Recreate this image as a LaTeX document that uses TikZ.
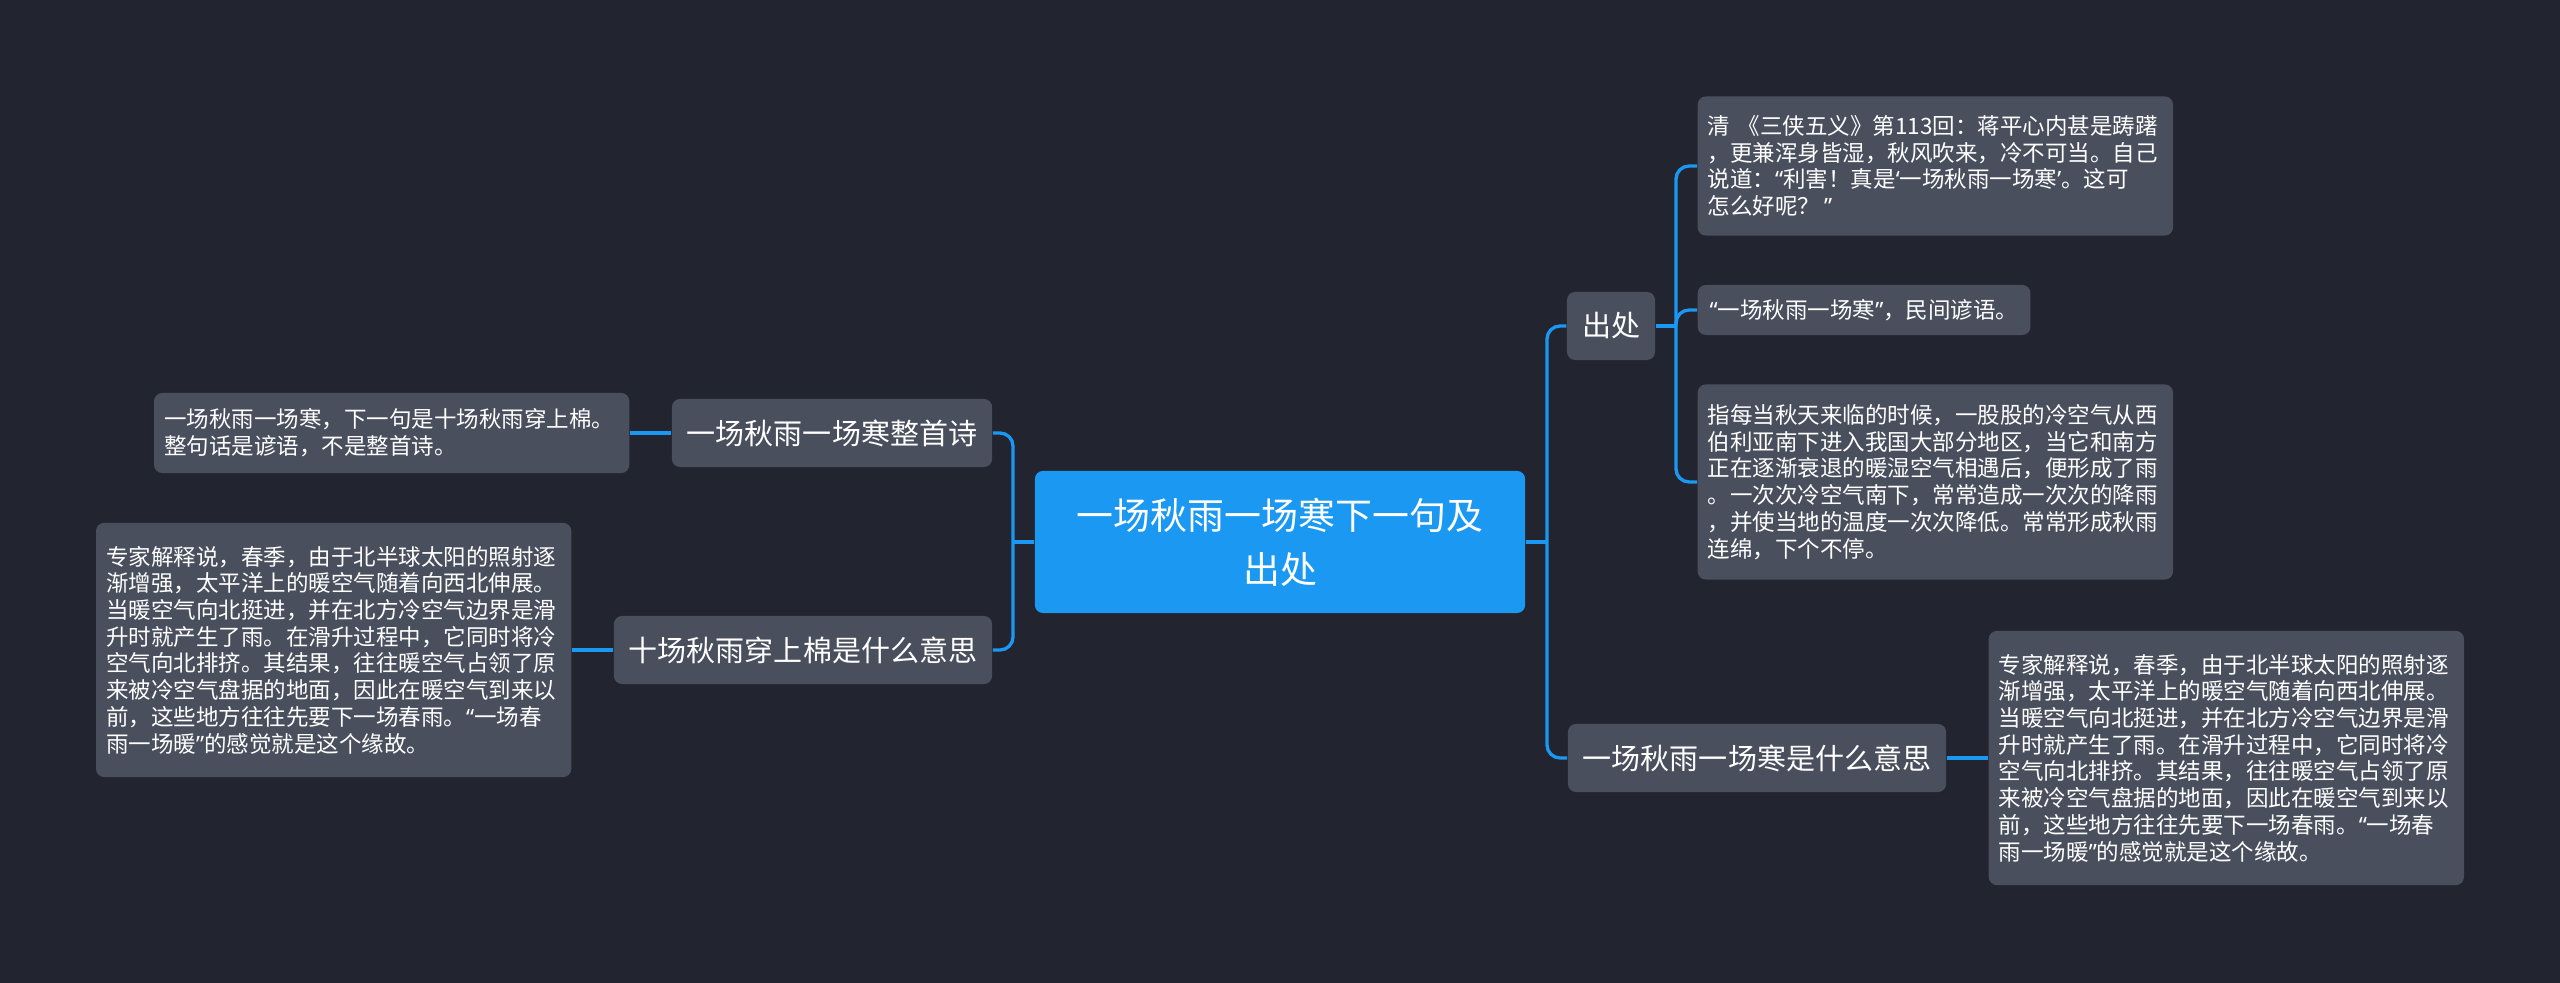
\documentclass[tikz,border=0pt]{standalone}
\usepackage{fontspec}
\setmainfont{Noto Sans CJK SC}
\newfontfamily\qf{Noto Sans}
\usepackage{tikz}
\usetikzlibrary{positioning, calc}

\definecolor{bgcol}{HTML}{22252F}
\definecolor{boxcol}{HTML}{4A4F5E}
\definecolor{linkcol}{HTML}{1B98F2}

\tikzset{
  rootbox/.style={fill=linkcol, text=white, rounded corners=2.3pt, align=center,
    minimum width=4.9cm, minimum height=1.42cm, inner sep=0pt,
    font=\fontsize{10.5}{15.4}\selectfont},
  branchbox/.style={fill=boxcol, text=white, rounded corners=2.3pt,
    minimum height=0.68cm, inner xsep=0.15cm, inner ysep=0pt,
    font=\fontsize{8.25}{10}\selectfont},
  leafbox/.style={fill=boxcol, text=white, rounded corners=2.3pt, align=left,
    inner xsep=0.1cm, inner ysep=0pt, font=\fontsize{6.4}{7.6}\selectfont},
  wideleaf/.style={leafbox, text width=4.55cm},
  link/.style={draw=linkcol, line width=0.94pt, rounded corners=3.7pt}
}

% proportional quote marks
\newcommand\qo{{\qf “}}
\newcommand\qc{{\qf ”}}
\newcommand\sqo{{\qf ‘}}
\newcommand\sqc{{\qf ’}}

\newcommand\expertnote{专家解释说，春季，由于北半球太阳的照射逐\\
渐增强，太平洋上的暖空气随着向西北伸展。\\
当暖空气向北挺进，并在北方冷空气边界是滑\\
升时就产生了雨。在滑升过程中，它同时将冷\\
空气向北排挤。其结果，往往暖空气占领了原\\
来被冷空气盘据的地面，因此在暖空气到来以\\
前，这些地方往往先要下一场春雨。\qo 一场春\\
雨一场暖\qc 的感觉就是这个缘故。}

\begin{document}
\begin{tikzpicture}[x=0.01cm, y=-0.01cm]
  \fill[bgcol] (0,0) rectangle (2560,983);

  % centre
  \node[rootbox] (root) at (1280,542) {一场秋雨一场寒下一句及\\出处};

  % right side
  \node[branchbox] (chuchu) at (1611,326) {出处};
  \node[branchbox] (meaning) at (1757,758) {一场秋雨一场寒是什么意思};

  \node[wideleaf, anchor=west, minimum height=1.39cm] (src1) at (1697,166) {清~《三侠五义》第113回：蒋平心内甚是踌躇\\
，更兼浑身皆湿，秋风吹来，冷不可当。自己\\
说道：\qo 利害！真是\sqo 一场秋雨一场寒\sqc 。这可\\
怎么好呢？\,\qc};
  \node[leafbox, anchor=west, minimum height=0.5cm, inner xsep=0.12cm] (src2) at (1697,310) {\qo 一场秋雨一场寒\qc ，民间谚语。};
  \node[wideleaf, anchor=west, minimum height=1.95cm] (src3) at (1697,482) {指每当秋天来临的时候，一股股的冷空气从西\\
伯利亚南下进入我国大部分地区，当它和南方\\
正在逐渐衰退的暖湿空气相遇后，便形成了雨\\
。一次次冷空气南下，常常造成一次次的降雨\\
，并使当地的温度一次次降低。常常形成秋雨\\
连绵，下个不停。};
  \node[wideleaf, anchor=west, minimum height=2.54cm] (meanleaf) at (1988,758) {\expertnote};

  % left side
  \node[branchbox] (poem) at (832,433) {一场秋雨一场寒整首诗};
  \node[branchbox] (cotton) at (803,650) {十场秋雨穿上棉是什么意思};

  \node[wideleaf, anchor=east, minimum height=0.8cm] (leftleaf1) at (630,433) {一场秋雨一场寒，下一句是十场秋雨穿上棉。\\
整句话是谚语，不是整首诗。};
  \node[wideleaf, anchor=east, minimum height=2.54cm] (leftleaf2) at (572,650) {\expertnote};

  % connectors
  \coordinate (rfork) at (1547,542);
  \coordinate (lfork) at (1013,542);
  \coordinate (sfork) at (1676,326);

  \draw[link] (root.east) -- (rfork);
  \draw[link] (rfork) |- (chuchu.west);
  \draw[link] (rfork) |- (meaning.west);
  \draw[link] (root.west) -- (lfork);
  \draw[link] (lfork) |- (poem.east);
  \draw[link] (lfork) |- (cotton.east);
  \draw[link] (chuchu.east) -- (sfork);
  \foreach \n in {src1, src2, src3}
    \draw[link] (sfork) |- (\n.west);
  \draw[link] (meaning.east) -- (meanleaf.west);
  \draw[link] (poem.west) -- (leftleaf1.east);
  \draw[link] (cotton.west) -- (leftleaf2.east);
\end{tikzpicture}
\end{document}
